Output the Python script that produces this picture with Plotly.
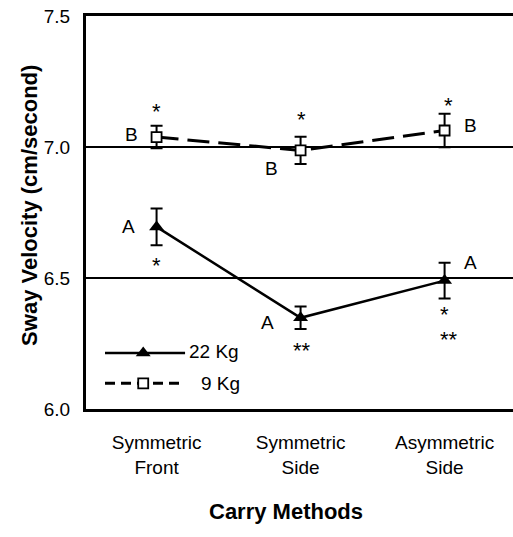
import plotly.graph_objects as go

categories = ["Symmetric<br>Front", "Symmetric<br>Side", "Asymmetric<br>Side"]
y_ticks = [6.0, 6.5, 7.0, 7.5]
y_tick_labels = ["6.0", "6.5", "7.0", "7.5"]

kg22_mean = [6.695, 6.348, 6.490]
kg22_err = [0.070, 0.043, 0.068]
kg9_mean = [7.038, 6.987, 7.063]
kg9_err = [0.043, 0.052, 0.064]

# significance labels: (text, category index, dx px, dy px)
kg9_labels = [("B", 0, -25, -3), ("*", 0, 0, -29), ("B", 1, -29, 18),
              ("*", 1, 1, -34), ("B", 2, 26, -5), ("*", 2, 4, -28)]
kg22_labels = [("A", 0, -28, 0), ("*", 0, 0, 35), ("A", 1, -33, 5),
               ("**", 1, 1, 29), ("A", 2, 26, -18), ("*", 2, 0, 30),
               ("**", 2, 4, 55)]

FONT = "Arial, Liberation Sans, sans-serif"
xi = list(range(len(categories)))

fig = go.Figure()
fig.add_trace(go.Scatter(
    x=xi, y=kg22_mean, mode="lines+markers", name="22 Kg",
    line=dict(color="black", width=2.5),
    marker=dict(symbol="triangle-up", size=13, color="black"),
    error_y=dict(type="data", array=kg22_err, color="black", thickness=2, width=6),
    showlegend=False))
fig.add_trace(go.Scatter(
    x=xi, y=kg9_mean, mode="lines+markers", name="9 Kg",
    line=dict(color="black", width=3, dash="22px,9px"),
    marker=dict(symbol="square", size=10, color="white", line=dict(color="black", width=1.8)),
    error_y=dict(type="data", array=kg9_err, color="black", thickness=2, width=6),
    showlegend=False))

annotations = []
for labels, means in ((kg9_labels, kg9_mean), (kg22_labels, kg22_mean)):
    for text, ci, dx, dy in labels:
        star = "*" in text
        size = 22 if star else 19
        shift = 3.5 if star else 0
        annotations.append(dict(
            x=ci, y=means[ci], xref="x", yref="y", text=text, showarrow=False,
            xanchor="center", yanchor="middle",
            xshift=dx, yshift=-(dy + shift), font=dict(family=FONT, size=size, color="black")))

# custom legend on an overlay axis pair
leg_y = [0.1425, 0.0654]
fig.add_trace(go.Scatter(x=[0.0445, 0.232], y=[leg_y[0]] * 2, mode="lines",
                         line=dict(color="black", width=2.5), xaxis="x2", yaxis="y2",
                         showlegend=False, hoverinfo="skip"))
fig.add_trace(go.Scatter(x=[0.134], y=[leg_y[0]], mode="markers",
                         marker=dict(symbol="triangle-up", size=13, color="black"),
                         xaxis="x2", yaxis="y2", showlegend=False, hoverinfo="skip"))
fig.add_trace(go.Scatter(x=[0.0445, 0.225], y=[leg_y[1]] * 2, mode="lines",
                         line=dict(color="black", width=3, dash="10px,6px"), xaxis="x2", yaxis="y2",
                         showlegend=False, hoverinfo="skip"))
fig.add_trace(go.Scatter(x=[0.134], y=[leg_y[1]], mode="markers",
                         marker=dict(symbol="square", size=10, color="white",
                                     line=dict(color="black", width=1.8)),
                         xaxis="x2", yaxis="y2", showlegend=False, hoverinfo="skip"))
annotations.append(dict(x=0.237, y=leg_y[0] + 0.004, xref="paper", yref="paper", text="22 Kg",
                        showarrow=False, xanchor="left", yanchor="middle",
                        font=dict(family=FONT, size=19, color="black")))
annotations.append(dict(x=0.265, y=leg_y[1], xref="paper", yref="paper", text="9 Kg",
                        showarrow=False, xanchor="left", yanchor="middle",
                        font=dict(family=FONT, size=19, color="black")))

annotations.append(dict(x=0.468, y=-0.262, xref="paper", yref="paper", text="<b>Carry Methods</b>",
                        showarrow=False, xanchor="center", yanchor="middle",
                        font=dict(family=FONT, size=22, color="black")))
annotations.append(dict(x=-0.131, y=0.517, xref="paper", yref="paper",
                        text="<b>Sway Velocity (cm/second)</b>", textangle=-90,
                        showarrow=False, xanchor="center", yanchor="middle",
                        font=dict(family=FONT, size=22, color="black")))

fig.update_layout(
    width=513, height=537,
    margin=dict(l=86, r=0, t=16, b=128),
    paper_bgcolor="white", plot_bgcolor="white",
    font=dict(family=FONT, size=19, color="black"),
    annotations=annotations,
    xaxis=dict(range=[-0.49, 2.475], tickvals=xi, ticktext=categories,
               showline=True, linecolor="black", linewidth=3, mirror=True,
               showgrid=False, zeroline=False, ticks="", ticklabelstandoff=14,
               tickfont=dict(family=FONT, size=19, color="black")),
    yaxis=dict(range=[6.0, 7.5], tickvals=y_ticks, ticktext=y_tick_labels,
               showline=True, linecolor="black", linewidth=3, mirror=False,
               showgrid=True, gridcolor="black", gridwidth=1.5, zeroline=False,
               ticks="", ticklabelstandoff=9,
               tickfont=dict(family=FONT, size=19, color="black")),
    xaxis2=dict(overlaying="x", range=[0, 1], visible=False),
    yaxis2=dict(overlaying="y", range=[0, 1], visible=False),
)

fig.write_html("out.html", config={"displayModeBar": False},
               post_script="document.body.style.margin='0';document.body.style.overflow='hidden';")
